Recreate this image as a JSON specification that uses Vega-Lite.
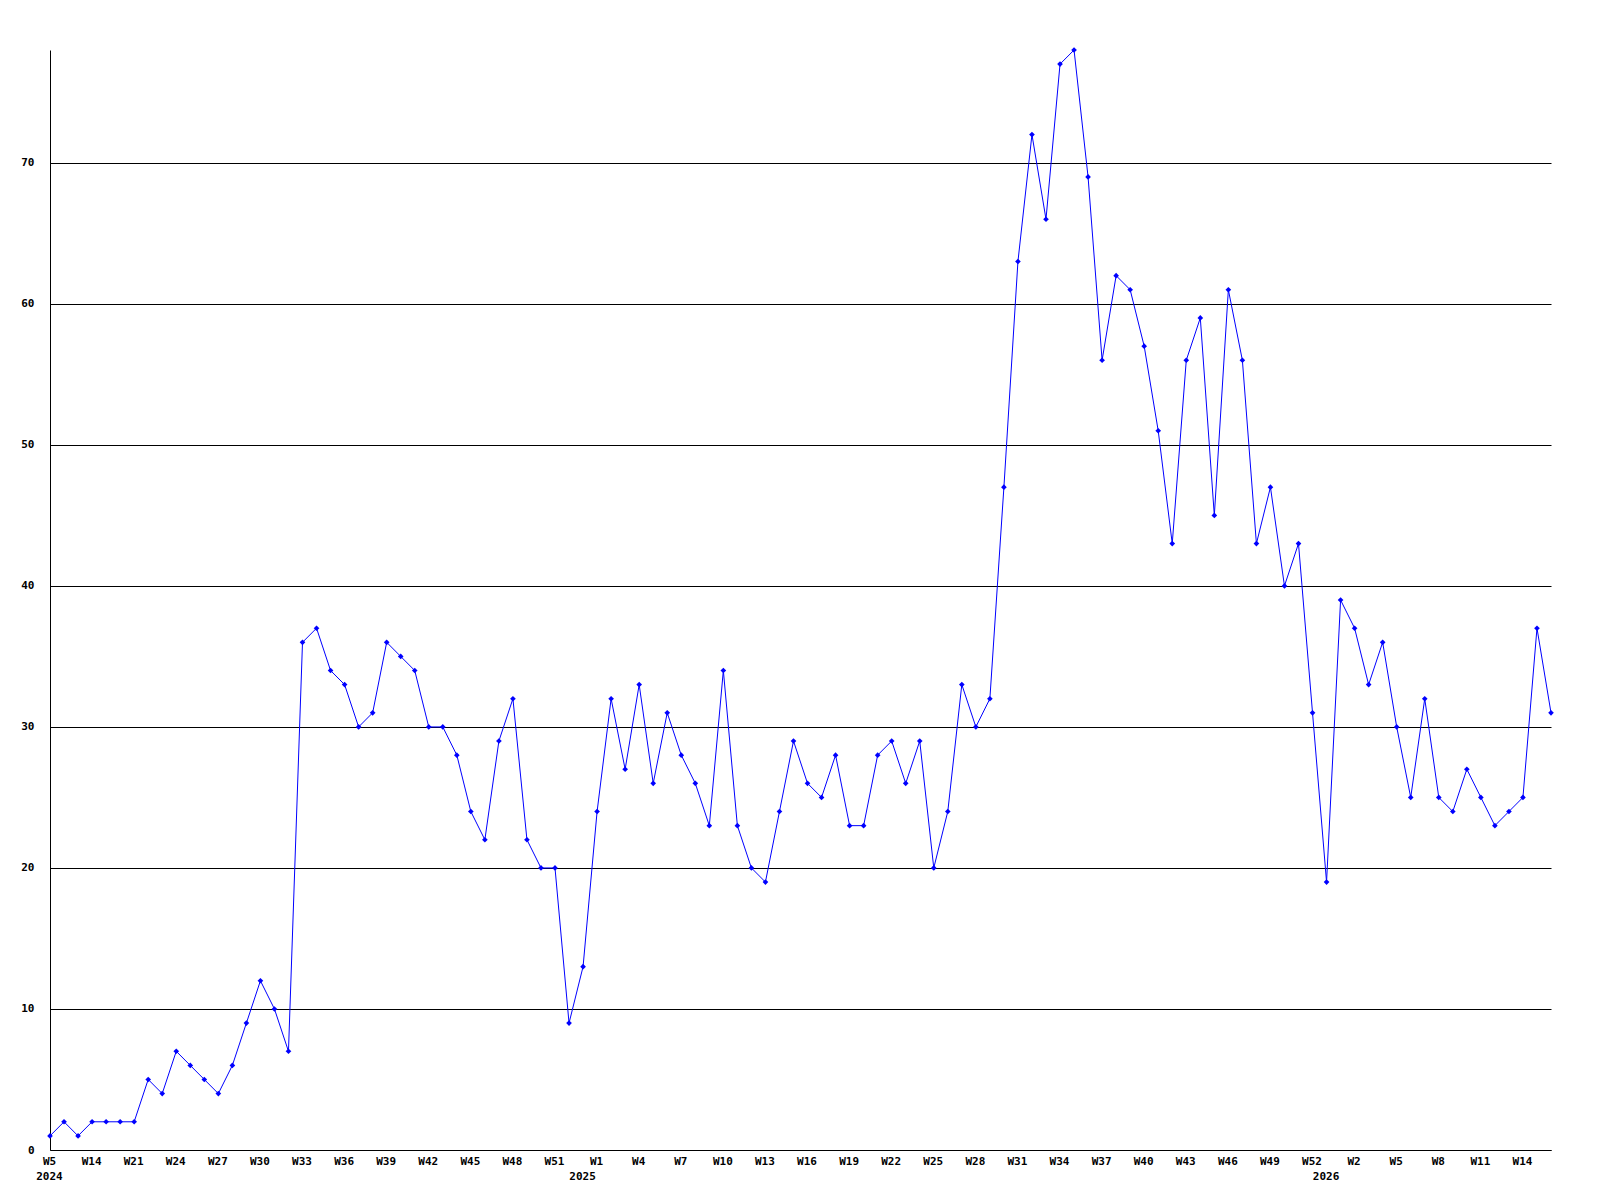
{
  "$schema": "https://vega.github.io/schema/vega-lite/v6.json",
  "autosize": {"type": "none"},
  "width": 1501,
  "height": 1100,
  "padding": {"left": 50, "top": 50, "right": 49, "bottom": 50},
  "background": "white",
  "config": {
    "view": {"stroke": null},
    "axis": {
      "labelFont": "DejaVu Sans Mono",
      "labelFontWeight": "bold",
      "labelFontSize": 11,
      "labelColor": "black",
      "domainColor": "black",
      "domainWidth": 1,
      "ticks": false,
      "title": null
    }
  },
  "data": {
    "values": [
      {"w": "2024-W5", "n": 1}, {"w": "2024-W8", "n": 2}, {"w": "2024-W11", "n": 1}, {"w": "2024-W14", "n": 2},
      {"w": "2024-W16", "n": 2}, {"w": "2024-W18", "n": 2}, {"w": "2024-W21", "n": 2}, {"w": "2024-W22", "n": 5},
      {"w": "2024-W23", "n": 4}, {"w": "2024-W24", "n": 7}, {"w": "2024-W25", "n": 6}, {"w": "2024-W26", "n": 5},
      {"w": "2024-W27", "n": 4}, {"w": "2024-W28", "n": 6}, {"w": "2024-W29", "n": 9}, {"w": "2024-W30", "n": 12},
      {"w": "2024-W31", "n": 10}, {"w": "2024-W32", "n": 7}, {"w": "2024-W33", "n": 36}, {"w": "2024-W34", "n": 37},
      {"w": "2024-W35", "n": 34}, {"w": "2024-W36", "n": 33}, {"w": "2024-W37", "n": 30}, {"w": "2024-W38", "n": 31},
      {"w": "2024-W39", "n": 36}, {"w": "2024-W40", "n": 35}, {"w": "2024-W41", "n": 34}, {"w": "2024-W42", "n": 30},
      {"w": "2024-W43", "n": 30}, {"w": "2024-W44", "n": 28}, {"w": "2024-W45", "n": 24}, {"w": "2024-W46", "n": 22},
      {"w": "2024-W47", "n": 29}, {"w": "2024-W48", "n": 32}, {"w": "2024-W49", "n": 22}, {"w": "2024-W50", "n": 20},
      {"w": "2024-W51", "n": 20}, {"w": "2024-W52", "n": 9}, {"w": "2025-W0", "n": 13}, {"w": "2025-W1", "n": 24},
      {"w": "2025-W2", "n": 32}, {"w": "2025-W3", "n": 27}, {"w": "2025-W4", "n": 33}, {"w": "2025-W5", "n": 26},
      {"w": "2025-W6", "n": 31}, {"w": "2025-W7", "n": 28}, {"w": "2025-W8", "n": 26}, {"w": "2025-W9", "n": 23},
      {"w": "2025-W10", "n": 34}, {"w": "2025-W11", "n": 23}, {"w": "2025-W12", "n": 20}, {"w": "2025-W13", "n": 19},
      {"w": "2025-W14", "n": 24}, {"w": "2025-W15", "n": 29}, {"w": "2025-W16", "n": 26}, {"w": "2025-W17", "n": 25},
      {"w": "2025-W18", "n": 28}, {"w": "2025-W19", "n": 23}, {"w": "2025-W20", "n": 23}, {"w": "2025-W21", "n": 28},
      {"w": "2025-W22", "n": 29}, {"w": "2025-W23", "n": 26}, {"w": "2025-W24", "n": 29}, {"w": "2025-W25", "n": 20},
      {"w": "2025-W26", "n": 24}, {"w": "2025-W27", "n": 33}, {"w": "2025-W28", "n": 30}, {"w": "2025-W29", "n": 32},
      {"w": "2025-W30", "n": 47}, {"w": "2025-W31", "n": 63}, {"w": "2025-W32", "n": 72}, {"w": "2025-W33", "n": 66},
      {"w": "2025-W34", "n": 77}, {"w": "2025-W35", "n": 78}, {"w": "2025-W36", "n": 69}, {"w": "2025-W37", "n": 56},
      {"w": "2025-W38", "n": 62}, {"w": "2025-W39", "n": 61}, {"w": "2025-W40", "n": 57}, {"w": "2025-W41", "n": 51},
      {"w": "2025-W42", "n": 43}, {"w": "2025-W43", "n": 56}, {"w": "2025-W44", "n": 59}, {"w": "2025-W45", "n": 45},
      {"w": "2025-W46", "n": 61}, {"w": "2025-W47", "n": 56}, {"w": "2025-W48", "n": 43}, {"w": "2025-W49", "n": 47},
      {"w": "2025-W50", "n": 40}, {"w": "2025-W51", "n": 43}, {"w": "2025-W52", "n": 31}, {"w": "2026-W0", "n": 19},
      {"w": "2026-W1", "n": 39}, {"w": "2026-W2", "n": 37}, {"w": "2026-W3", "n": 33}, {"w": "2026-W4", "n": 36},
      {"w": "2026-W5", "n": 30}, {"w": "2026-W6", "n": 25}, {"w": "2026-W7", "n": 32}, {"w": "2026-W8", "n": 25},
      {"w": "2026-W9", "n": 24}, {"w": "2026-W10", "n": 27}, {"w": "2026-W11", "n": 25}, {"w": "2026-W12", "n": 23},
      {"w": "2026-W13", "n": 24}, {"w": "2026-W14", "n": 25}, {"w": "2026-W15", "n": 37}, {"w": "2026-W16", "n": 31}
    ]
  },
  "encoding": {
    "x": {
      "field": "w",
      "type": "ordinal",
      "sort": null,
      "scale": {"type": "point", "padding": 0},
      "axis": {
        "labelAngle": 0,
        "labelPadding": 5,
        "labelLineHeight": 15,
        "labelOverlap": false,
        "labelFlush": false,
        "labelOffset": -1,
        "grid": false,
        "values": ["2024-W5", "2024-W14", "2024-W21", "2024-W24", "2024-W27", "2024-W30", "2024-W33", "2024-W36", "2024-W39", "2024-W42", "2024-W45", "2024-W48", "2024-W51", "2025-W0", "2025-W1", "2025-W4", "2025-W7", "2025-W10", "2025-W13", "2025-W16", "2025-W19", "2025-W22", "2025-W25", "2025-W28", "2025-W31", "2025-W34", "2025-W37", "2025-W40", "2025-W43", "2025-W46", "2025-W49", "2025-W52", "2026-W0", "2026-W2", "2026-W5", "2026-W8", "2026-W11", "2026-W14"],
        "labelExpr": "datum.value == '2024-W5' ? ['W5', '2024'] : (indexof(datum.value, '-W0') >= 0 ? ['', slice(datum.value, 0, 4)] : slice(datum.value, 5))"
      }
    },
    "y": {
      "field": "n",
      "type": "quantitative",
      "scale": {"domain": [0, 78], "nice": false, "zero": true},
      "axis": {
        "values": [0, 10, 20, 30, 40, 50, 60, 70],
        "grid": true,
        "gridColor": "black",
        "gridOpacity": 1,
        "gridWidth": 1,
        "labelPadding": 16
      }
    }
  },
  "layer": [
    {"mark": {"type": "line", "color": "#0000ff", "strokeWidth": 1}},
    {"mark": {"type": "point", "shape": "diamond", "filled": true, "color": "#0000ff", "size": 32, "opacity": 1}}
  ]
}
